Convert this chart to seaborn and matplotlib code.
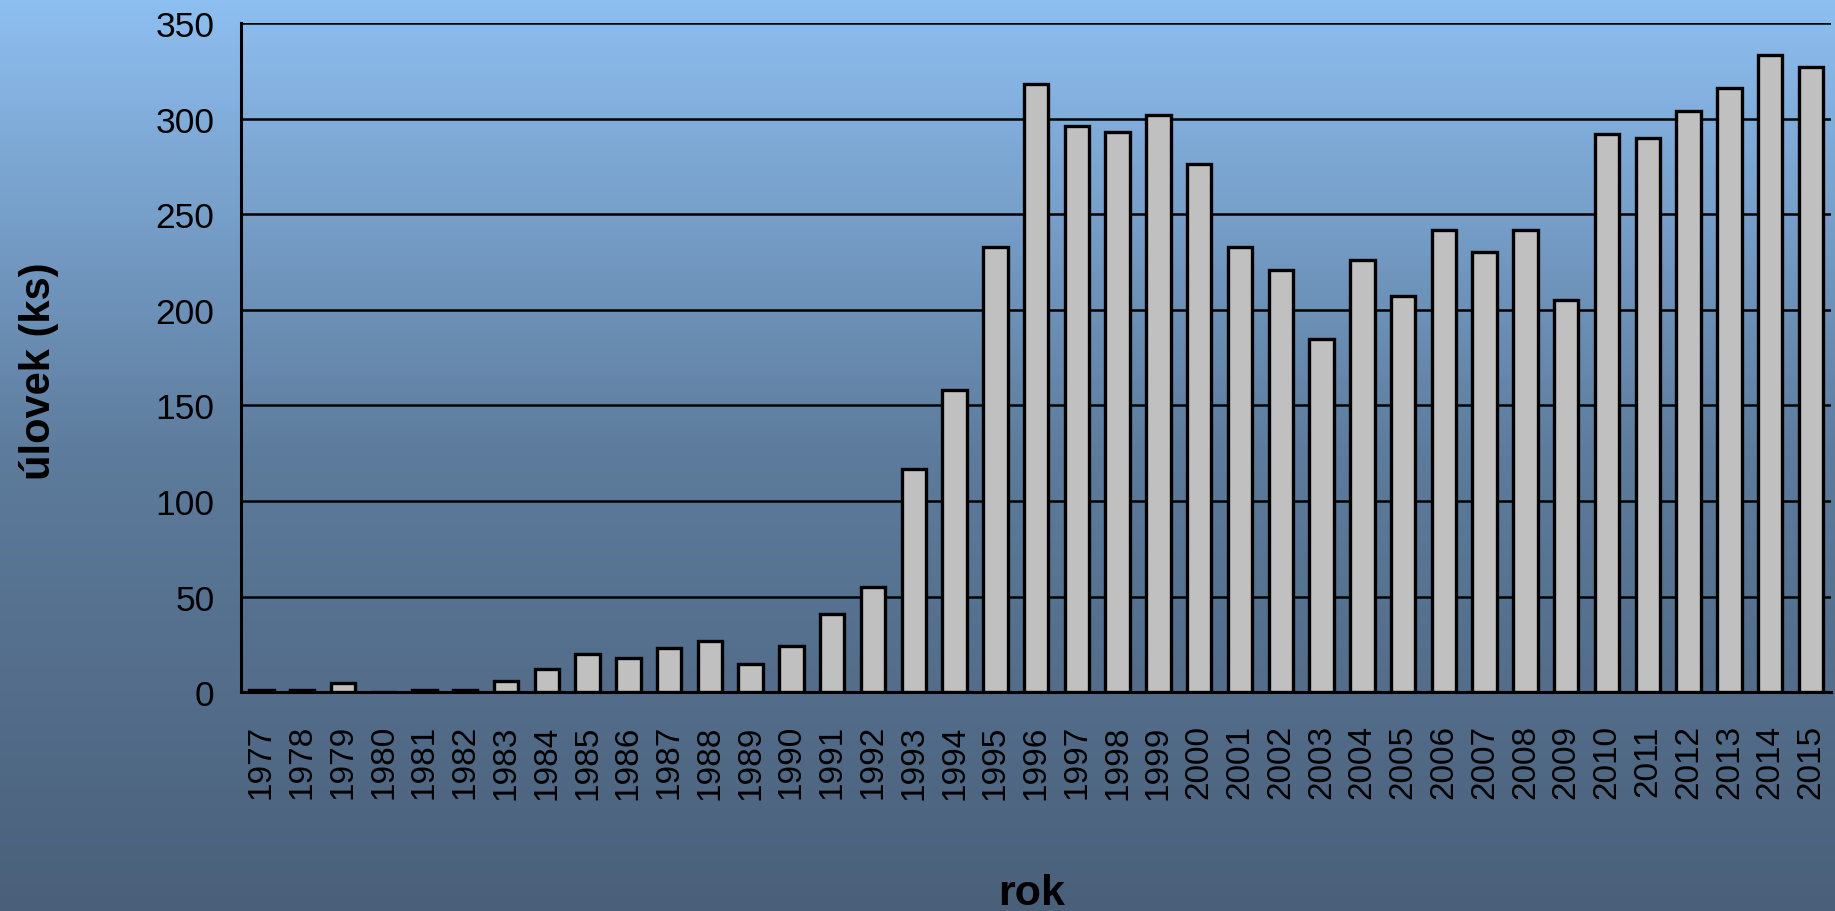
import numpy as np
import pandas as pd
import seaborn as sns
import matplotlib.pyplot as plt
from matplotlib.colors import LinearSegmentedColormap

# data
years = [str(y) for y in range(1977, 2016)]
catch = [1, 1, 5, 0, 1, 1, 6, 12, 20, 18, 23, 27, 15, 24, 41, 55,
         117, 158, 233, 318, 296, 293, 302, 276, 233, 221, 185, 226,
         207, 242, 230, 242, 205, 292, 290, 304, 316, 333, 327]
y_ticks = [0, 50, 100, 150, 200, 250, 300, 350]

df = pd.DataFrame({'rok': years, 'ulovek': catch})

sns.set_style('white')
plt.rcParams['font.family'] = ['Liberation Sans', 'DejaVu Sans']
plt.rcParams['text.color'] = 'black'
plt.rcParams['xtick.color'] = 'black'
plt.rcParams['ytick.color'] = 'black'

fig = plt.figure(figsize=(18.35, 9.12), dpi=100)

# gradient background (light blue top -> dark slate bottom)
bg = fig.add_axes([0, 0, 1, 1], zorder=0)
grad_cmap = LinearSegmentedColormap.from_list('bg', ['#4a607a', '#5d7b9c', '#8ebff1'])
bg.imshow(np.linspace(0, 1, 256).reshape(-1, 1), aspect='auto', cmap=grad_cmap,
          origin='lower', extent=[0, 1, 0, 1])
bg.axis('off')

ax = fig.add_axes([0.1313, 0.2398, 0.8667, 0.7339], zorder=1)
ax.patch.set_alpha(0)

sns.barplot(data=df, x='rok', y='ulovek', color='#c0c0c0', saturation=1,
            edgecolor='black', linewidth=2.4, width=0.6, ax=ax, zorder=3)

ax.set_ylim(0, 350)
ax.set_xlim(-0.5, len(years) - 0.5)
ax.set_yticks(y_ticks)
ax.yaxis.grid(True, color='black', linewidth=1.8)
ax.set_axisbelow(True)

# category boundary ticks like the original
ax.set_xticks(np.arange(-0.5, len(years), 1), minor=True)
ax.tick_params(axis='x', which='minor', length=9, width=2, color='black', direction='out')
ax.tick_params(axis='x', which='major', length=0, pad=23, labelsize=24, labelrotation=90,
               labelcolor='black')
ax.tick_params(axis='y', length=9, width=2, color='black', direction='out', pad=10,
               labelsize=25.5, labelcolor='black')

for s in ['top', 'right']:
    ax.spines[s].set_visible(False)
for s in ['left', 'bottom']:
    ax.spines[s].set_color('black')
    ax.spines[s].set_linewidth(2.2)

ax.set_xlabel('')
ax.set_ylabel('')
fig.text(0.021, 0.593, 'úlovek (ks)', rotation=90, fontsize=30, fontweight='bold',
         ha='center', va='center', color='black')
fig.text(0.562, 0.02, 'rok', fontsize=31, fontweight='bold', ha='center', va='center',
         color='black')

fig.savefig('out.png', dpi=100)
